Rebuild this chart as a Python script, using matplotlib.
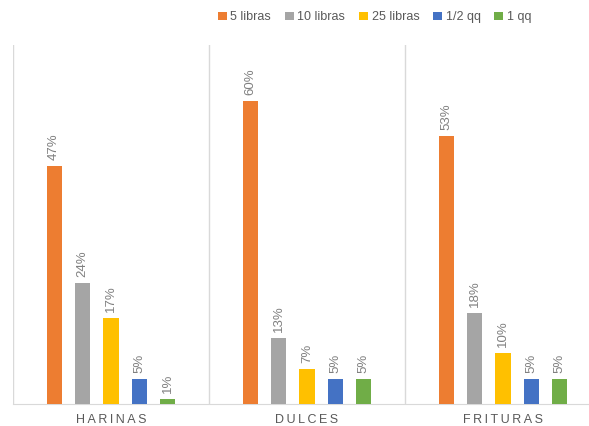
import matplotlib.pyplot as plt
import numpy as np

# Data
categories = ['HARINAS', 'DULCES', 'FRITURAS']
series = ['5 libras', '10 libras', '25 libras', '1/2 qq', '1 qq']
harinas = [47, 24, 17, 5, 1]
dulces = [60, 13, 7, 5, 5]
frituras = [53, 18, 10, 5, 5]
colors = ['#ED7D31', '#A5A5A5', '#FFC000', '#4472C4', '#70AD47']

plt.rcParams['font.family'] = ['Liberation Sans', 'DejaVu Sans']

values = np.array([harinas, dulces, frituras])
text_col = '#595959'
grid_col = '#D9D9D9'

fig = plt.figure(figsize=(5.89, 4.26), dpi=100)
ax = fig.add_axes([13 / 589, 22 / 426, 588 / 589, 359 / 426])

x = np.arange(len(categories))
pitch = 0.145
width = 0.077
for j, name in enumerate(series):
    pos = x + (j - 2) * pitch
    bars = ax.bar(pos, values[:, j], width=width, color=colors[j], label=name, zorder=3)
    for b, v in zip(bars, values[:, j]):
        ax.text(b.get_x() + b.get_width() / 2, v + 1.2, f'{v}%', rotation=90,
                ha='center', va='bottom', fontsize=9.5, color='#808080')

ax.set_xlim(-0.5, len(categories) - 0.5)
ax.set_ylim(0, 71)

# group separators
for s in np.arange(-0.5, len(categories)):
    ax.axvline(s, color=grid_col, lw=1, zorder=1)

for side in ['top', 'right', 'left']:
    ax.spines[side].set_visible(False)
ax.spines['bottom'].set_color(grid_col)
ax.set_yticks([])
ax.set_xticks(x)
ax.set_xticklabels(['\u2009'.join(c) for c in categories], fontsize=9, color=text_col)
ax.tick_params(axis='x', length=0, pad=7)

fig.legend(loc='upper center', bbox_to_anchor=(0.636, 1.0), ncol=5, frameon=False,
           fontsize=9, handlelength=0.7, handleheight=0.7, handletextpad=0.3,
           columnspacing=1.1, labelcolor=text_col)

fig.savefig('out.png', dpi=100)
